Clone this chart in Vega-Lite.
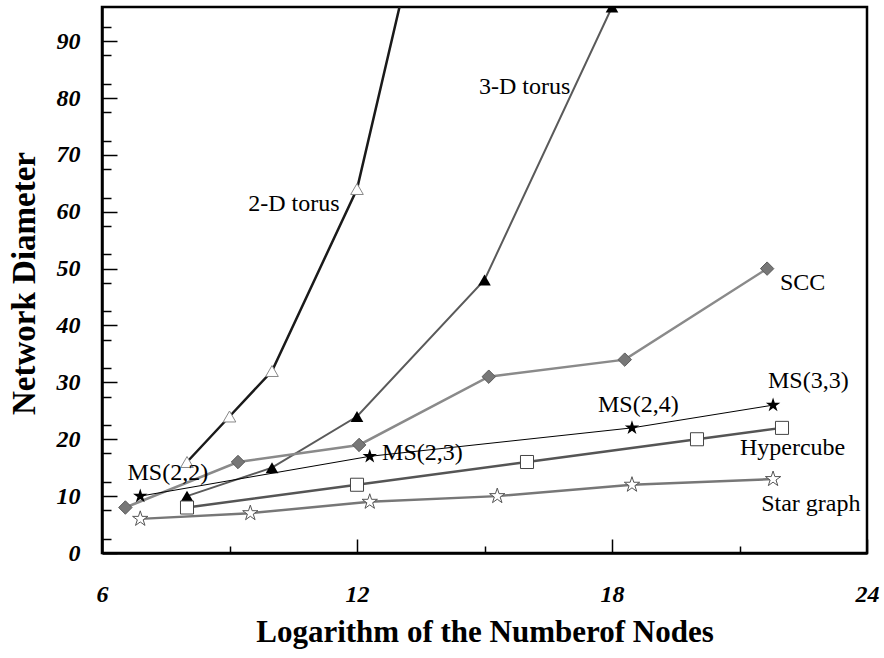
{
  "$schema": "https://vega.github.io/schema/vega-lite/v6.json",
  "width": 765,
  "height": 546,
  "autosize": {"type": "none"},
  "padding": {"left": 102, "top": 7, "right": 17, "bottom": 105},
  "background": "#ffffff",
  "config": {
    "view": {"stroke": "#000000", "strokeWidth": 2.5},
    "font": "Liberation Serif"
  },
  "datasets": {
    "pts": [
      {"series": "2-D torus", "x": 8, "y": 16},
      {"series": "2-D torus", "x": 9, "y": 24},
      {"series": "2-D torus", "x": 10, "y": 32},
      {"series": "2-D torus", "x": 12, "y": 64},
      {"series": "2-D torus", "x": 14, "y": 128},
      {"series": "3-D torus", "x": 8, "y": 10},
      {"series": "3-D torus", "x": 10, "y": 15},
      {"series": "3-D torus", "x": 12, "y": 24},
      {"series": "3-D torus", "x": 15, "y": 48},
      {"series": "3-D torus", "x": 18, "y": 96},
      {"series": "SCC", "x": 6.55, "y": 8},
      {"series": "SCC", "x": 9.2, "y": 16},
      {"series": "SCC", "x": 12.05, "y": 19},
      {"series": "SCC", "x": 15.1, "y": 31},
      {"series": "SCC", "x": 18.3, "y": 34},
      {"series": "SCC", "x": 21.65, "y": 50},
      {"series": "MS", "x": 6.9, "y": 10},
      {"series": "MS", "x": 12.3, "y": 17},
      {"series": "MS", "x": 18.47, "y": 22},
      {"series": "MS", "x": 21.79, "y": 26},
      {"series": "Hypercube", "x": 8, "y": 8},
      {"series": "Hypercube", "x": 12, "y": 12},
      {"series": "Hypercube", "x": 16, "y": 16},
      {"series": "Hypercube", "x": 20, "y": 20},
      {"series": "Hypercube", "x": 22, "y": 22},
      {"series": "Star graph", "x": 6.9, "y": 6},
      {"series": "Star graph", "x": 9.49, "y": 7},
      {"series": "Star graph", "x": 12.3, "y": 9},
      {"series": "Star graph", "x": 15.3, "y": 10},
      {"series": "Star graph", "x": 18.47, "y": 12},
      {"series": "Star graph", "x": 21.79, "y": 13}
    ],
    "labels": [
      {"text": "2-D torus", "x": 9.44, "y": 61.3},
      {"text": "3-D torus", "x": 14.87, "y": 81.9},
      {"text": "SCC", "x": 21.95, "y": 47.4},
      {"text": "MS(2,2)", "x": 6.6, "y": 14.1},
      {"text": "MS(2,3)", "x": 12.59, "y": 17.6},
      {"text": "MS(2,4)", "x": 17.67, "y": 26.1},
      {"text": "MS(3,3)", "x": 21.67, "y": 30.3},
      {"text": "Hypercube", "x": 21.01, "y": 18.5},
      {"text": "Star graph", "x": 21.51, "y": 8.6}
    ]
  },
  "encoding": {
    "x": {
      "field": "x", "type": "quantitative",
      "scale": {"domain": [6, 24], "nice": false, "zero": false},
      "axis": {
        "orient": "bottom",
        "offset": 0,
        "values": [6, 9, 12, 15, 18, 21, 24],
        "labelExpr": "datum.value % 6 === 0 ? datum.label : ''",
        "tickSize": {"condition": {"test": "datum.value % 6 === 0", "value": -14}, "value": -7},
        "tickColor": "#000000", "tickWidth": 1.5,
        "domainColor": "#000000", "domainWidth": 2.5,
        "grid": false,
        "labelFlush": false, "labelOverlap": false,
        "labelFont": "Liberation Serif", "labelFontSize": 24, "labelFontWeight": "bold", "labelFontStyle": "italic", "labelColor": "#000000",
        "labelPadding": 43,
        "title": "Logarithm of the Numberof Nodes",
        "titleFont": "Liberation Serif", "titleFontSize": 31, "titleFontWeight": "bold", "titleColor": "#000000",
        "titleX": 382.5, "titleY": 88, "titleBaseline": "alphabetic", "titleAlign": "center"
      }
    },
    "y": {
      "field": "y", "type": "quantitative",
      "scale": {"domain": [0, 96], "nice": false},
      "axis": {
        "orient": "left",
        "values": [0, 2.5, 7.5, 10, 12.5, 17.5, 20, 22.5, 27.5, 30, 32.5, 37.5, 40, 42.5, 47.5, 50, 52.5, 57.5, 60, 62.5, 67.5, 70, 72.5, 77.5, 80, 82.5, 87.5, 90, 92.5],
        "labelExpr": "datum.value % 10 === 0 ? datum.label : ''",
        "tickSize": {"condition": {"test": "datum.value % 10 === 0", "value": -15}, "value": -9},
        "tickColor": "#000000", "tickWidth": 1.5,
        "domainColor": "#000000", "domainWidth": 2.5,
        "grid": false,
        "labelFlush": false, "labelOverlap": false,
        "labelFont": "Liberation Serif", "labelFontSize": 24, "labelFontWeight": "bold", "labelFontStyle": "italic", "labelColor": "#000000",
        "labelPadding": 37,
        "title": "Network Diameter",
        "titleFont": "Liberation Serif", "titleFontSize": 33, "titleFontWeight": "bold", "titleColor": "#000000",
        "titleX": -68, "titleY": 276, "titleBaseline": "alphabetic", "titleAlign": "center", "titleAngle": 270
      }
    }
  },
  "layer": [
    {"data": {"name": "pts"}, "transform": [{"filter": "datum.series === '2-D torus'"}],
     "mark": {"type": "line", "clip": true, "color": "#1a1a1a", "strokeWidth": 2.5}},
    {"data": {"name": "pts"}, "transform": [{"filter": "datum.series === '3-D torus'"}],
     "mark": {"type": "line", "clip": true, "color": "#5a5a5a", "strokeWidth": 2}},
    {"data": {"name": "pts"}, "transform": [{"filter": "datum.series === 'SCC'"}],
     "mark": {"type": "line", "clip": true, "color": "#8a8a8a", "strokeWidth": 2.5}},
    {"data": {"name": "pts"}, "transform": [{"filter": "datum.series === 'MS'"}],
     "mark": {"type": "line", "clip": true, "color": "#000000", "strokeWidth": 1}},
    {"data": {"name": "pts"}, "transform": [{"filter": "datum.series === 'Hypercube'"}],
     "mark": {"type": "line", "clip": true, "color": "#555555", "strokeWidth": 2.5}},
    {"data": {"name": "pts"}, "transform": [{"filter": "datum.series === 'Star graph'"}],
     "mark": {"type": "line", "clip": true, "color": "#777777", "strokeWidth": 2.5}},
    {"data": {"name": "pts"}, "transform": [{"filter": "datum.series === '2-D torus'"}],
     "mark": {"type": "point", "clip": true, "shape": "triangle-up", "filled": true, "fill": "#ffffff", "stroke": "#888888", "strokeWidth": 1, "size": 160, "opacity": 1}},
    {"data": {"name": "pts"}, "transform": [{"filter": "datum.series === '3-D torus'"}],
     "mark": {"type": "point", "clip": true, "shape": "triangle-up", "filled": true, "fill": "#000000", "size": 160, "opacity": 1}},
    {"data": {"name": "pts"}, "transform": [{"filter": "datum.series === 'SCC'"}],
     "mark": {"type": "point", "clip": true, "shape": "diamond", "filled": true, "fill": "#777777", "stroke": "#5a5a5a", "strokeWidth": 1, "size": 180, "opacity": 1}},
    {"data": {"name": "pts"}, "transform": [{"filter": "datum.series === 'Hypercube'"}],
     "mark": {"type": "point", "clip": true, "shape": "square", "filled": true, "fill": "#ffffff", "stroke": "#444444", "strokeWidth": 1, "size": 170, "opacity": 1}},
    {"data": {"name": "pts"}, "transform": [{"filter": "datum.series === 'Star graph'"}],
     "mark": {"type": "point", "clip": true, "shape": "M0,-1L0.2245,-0.309L0.951,-0.309L0.363,0.118L0.588,0.809L0,0.382L-0.588,0.809L-0.363,0.118L-0.951,-0.309L-0.2245,-0.309Z", "filled": true, "fill": "#ffffff", "stroke": "#555555", "strokeWidth": 1, "size": 260, "opacity": 1}},
    {"data": {"name": "pts"}, "transform": [{"filter": "datum.series === 'MS'"}],
     "mark": {"type": "point", "clip": true, "shape": "M0,-1L0.2245,-0.309L0.951,-0.309L0.363,0.118L0.588,0.809L0,0.382L-0.588,0.809L-0.363,0.118L-0.951,-0.309L-0.2245,-0.309Z", "filled": true, "fill": "#000000", "size": 230, "opacity": 1}},
    {"data": {"name": "labels"},
     "mark": {"type": "text", "align": "left", "baseline": "middle", "font": "Liberation Serif", "fontSize": 24, "color": "#000000"},
     "encoding": {"text": {"field": "text", "type": "nominal"}}}
  ]
}
